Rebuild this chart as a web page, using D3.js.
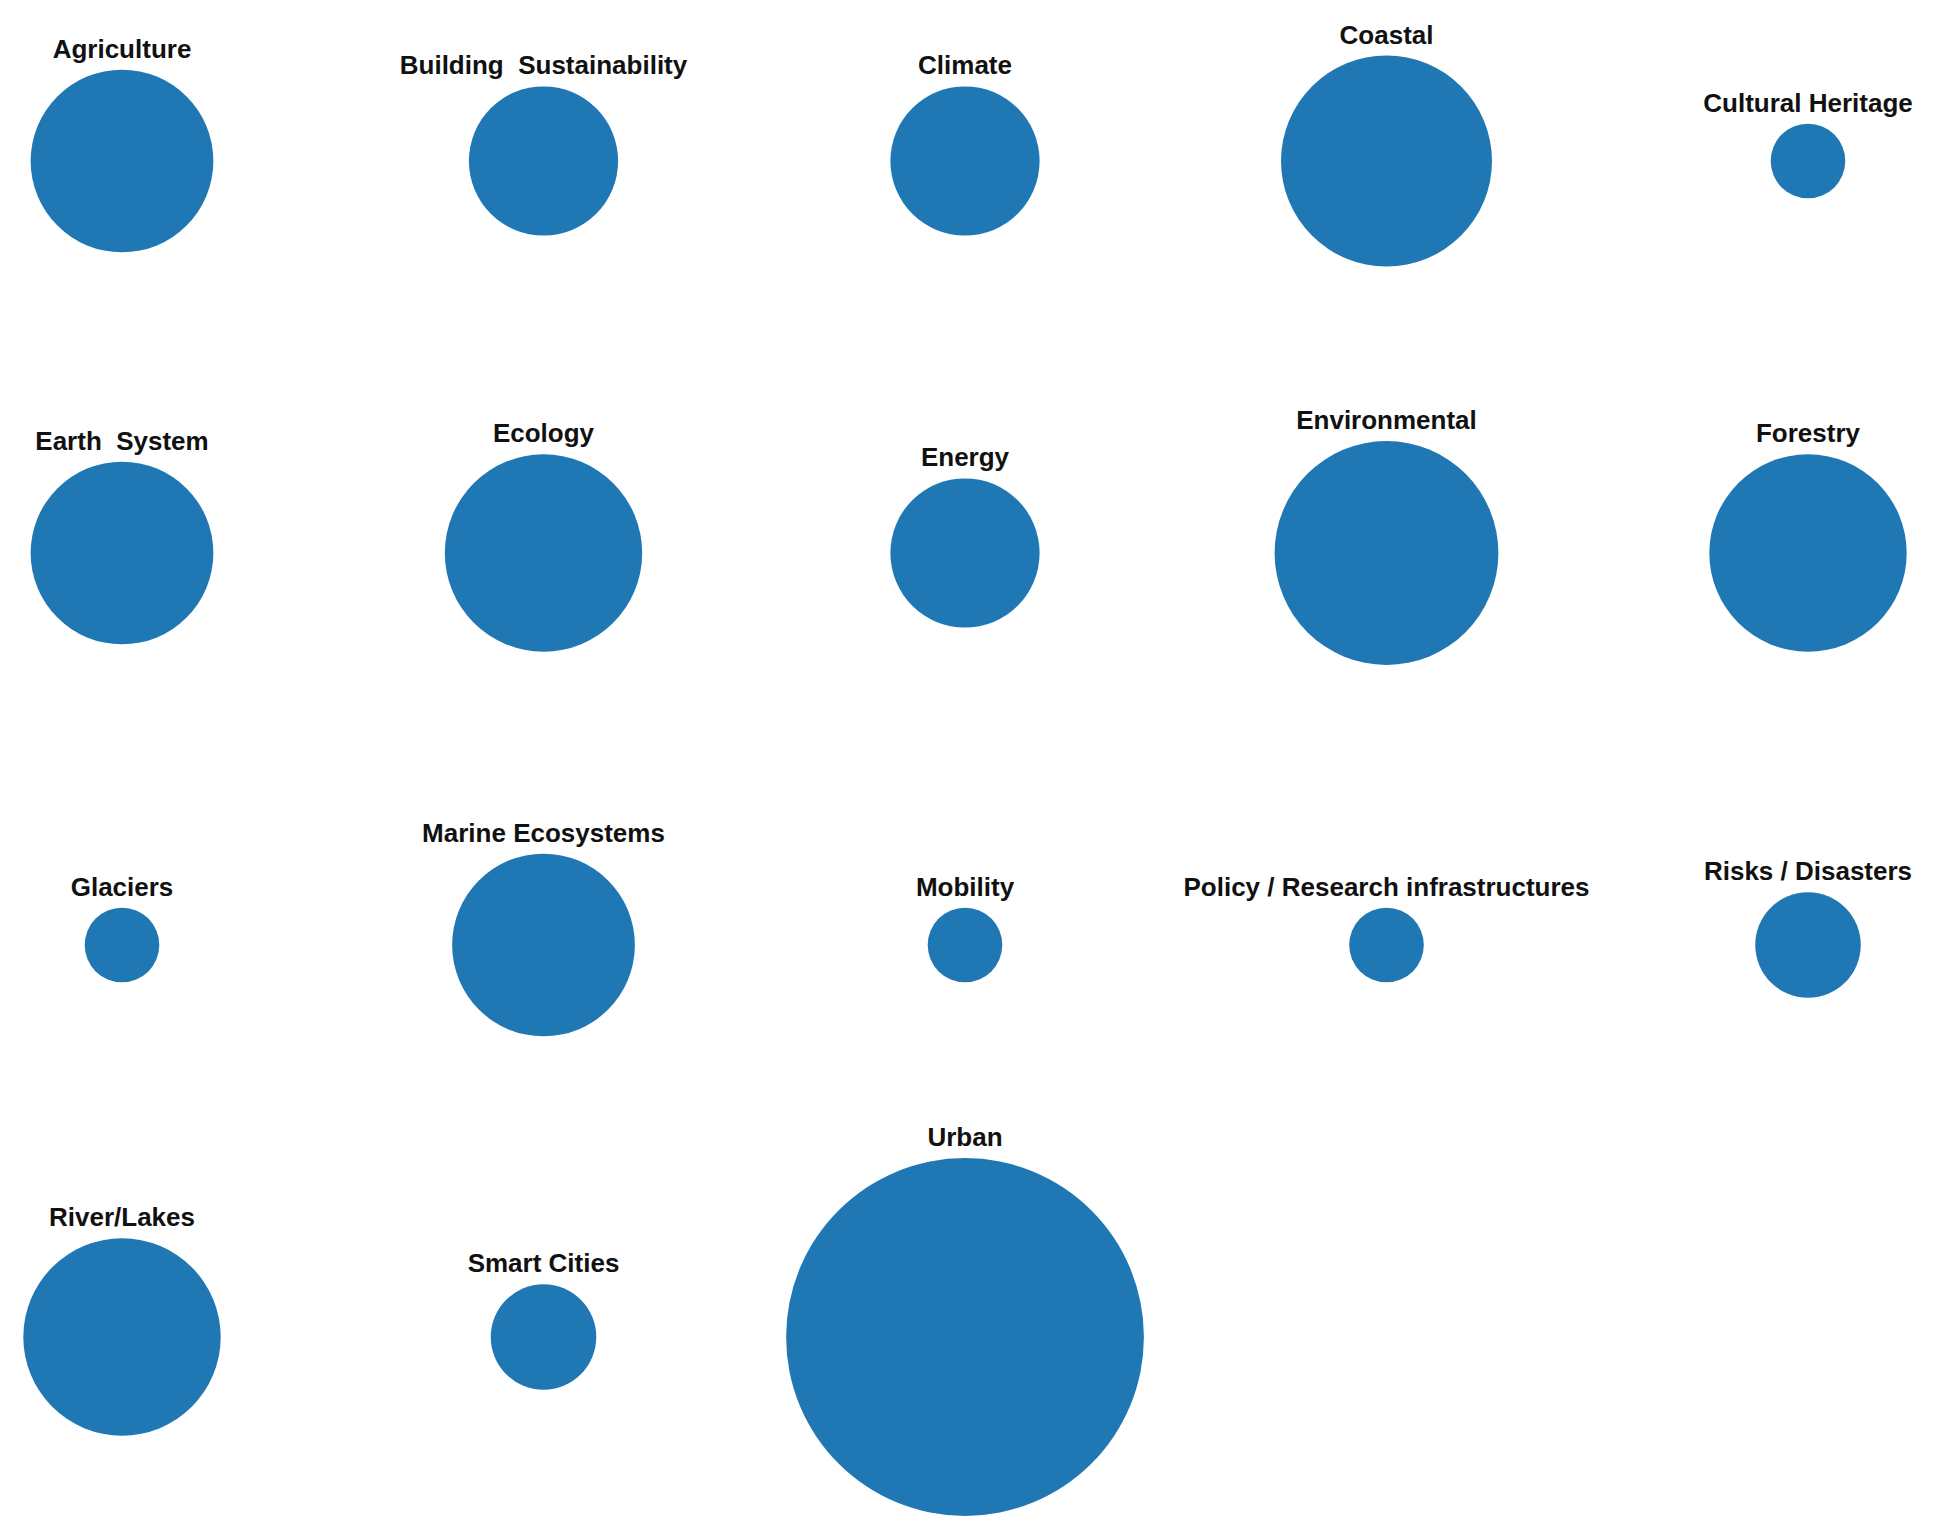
<!DOCTYPE html><html><head><meta charset="utf-8"><script src="https://d3js.org/d3.v7.min.js"></script>
<style>body{margin:0;background:#fff}</style></head><body><svg id="c" width="1950" height="1537"></svg>
<script>
const categories=["Agriculture","Building  Sustainability","Climate","Coastal","Cultural Heritage","Earth  System","Ecology","Energy","Environmental","Forestry","Glaciers","Marine Ecosystems","Mobility","Policy / Research infrastructures","Risks / Disasters","River/Lakes","Smart Cities","Urban"];
const values=[6,4,4,8,1,6,7,4,9,7,1,6,1,1,2,7,2,23];
const svg=d3.select("#c");
const cols=5;
const x=d3.scalePoint().domain(d3.range(cols)).range([122,1808]);
const y=d3.scalePoint().domain(d3.range(4)).range([161,1337]);
const r=d3.scaleSqrt().domain([0,1]).range([0,37.3]);
const g=svg.selectAll("g").data(categories.map((c,i)=>({c,v:values[i],i}))).join("g")
 .attr("transform",d=>`translate(${x(d.i%cols)},${y(Math.floor(d.i/cols))})`);
g.append("circle").attr("r",d=>r(d.v)).attr("fill","#1f77b4");
g.append("text").attr("y",d=>-r(d.v)-12).attr("text-anchor","middle")
 .attr("font-family","Liberation Sans, Arial, sans-serif").attr("font-weight","bold").attr("font-size",26)
 .attr("fill","#111").style("white-space","pre").text(d=>d.c);
</script></body></html>
